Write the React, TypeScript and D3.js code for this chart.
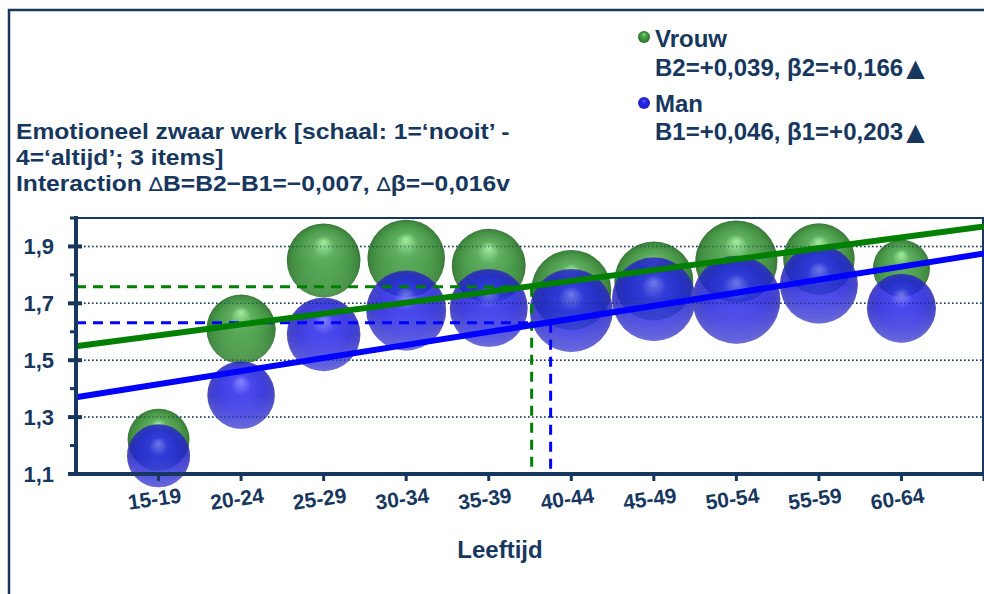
import React from 'react'
import { scaleLinear, scaleSqrt, line } from 'd3'

// leeftijdsgroepen op de x-as (posities 1..10)
const ageGroups = ['15-19', '20-24', '25-29', '30-34', '35-39', '40-44', '45-49', '50-54', '55-59', '60-64']

// gemiddelde score per groep
const vrouwMean = [1.221, 1.609, 1.851, 1.858, 1.832, 1.747, 1.779, 1.847, 1.856, 1.823]
const manMean = [1.164, 1.378, 1.591, 1.675, 1.684, 1.675, 1.715, 1.713, 1.766, 1.683]

// bubbelgrootte (aantal respondenten, geschat)
const vrouwN = [990, 1240, 1400, 1550, 1410, 1650, 1610, 1740, 1320, 840]
const manN = [1030, 1180, 1400, 1650, 1570, 1780, 1810, 2000, 1570, 1230]

// regressielijnen: waarde aan begin (x=0) en eind (x=11) van de as
const vrouwFit = [1.549, 1.97]
const manFit = [1.37, 1.875]

// gemiddelde punten (x, y) voor de stippellijnen
const vrouwCentroid = [5.52, 1.758]
const manCentroid = [5.75, 1.632]

const yMajor = [1.1, 1.3, 1.5, 1.7, 1.9]
const yMinor = [1.2, 1.4, 1.6, 1.8, 2.0]
const gridLines = [1.3, 1.5, 1.7, 1.9]

const titleLine1 = 'Emotioneel zwaar werk [schaal: 1=\u2018nooit\u2019 -'
const titleLine2 = '4=\u2018altijd\u2019; 3 items]'

const NAVY = '#17375e'
const GREEN = '#008000'
const BLUE = '#0000ff'
const FONT = '"Liberation Sans", Arial, sans-serif'

const W = 984
const H = 594
const left = 76
const right = 984
const top = 218
const bottom = 474

export default function App() {
  const x = scaleLinear().domain([0, 11]).range([left, right])
  const y = scaleLinear().domain([1.1, 2.0]).range([bottom, top])
  const r = scaleSqrt().domain([0, 2000]).range([0, 44])

  const fitLine = line<number>()
    .x((_, i) => x(i === 0 ? 0 : 11))
    .y(d => y(d))

  const series = [
    { key: 'vrouw', mean: vrouwMean, n: vrouwN, grad: 'url(#gGreen)', shine: 'url(#gGreenLow)', op: 0.9 },
    { key: 'man', mean: manMean, n: manN, grad: 'url(#gBlue)', shine: 'url(#gBlueLow)', op: 0.86 },
  ]

  const centroids = [
    { c: vrouwCentroid, color: GREEN },
    { c: manCentroid, color: BLUE },
  ]

  const xTicks = ageGroups.map((_, i) => i + 1).concat([11])
  const titleProps = { fontFamily: FONT, fontSize: 22, fontWeight: 'bold', fill: NAVY }

  return (
    <svg width={W} height={H} style={{ position: 'absolute', left: 0, top: 0, display: 'block', background: '#fff' }}>
      <defs>
        <radialGradient id="gGreen" cx="50%" cy="50%" r="50%" fx="50%" fy="25%">
          <stop offset="0%" stopColor="#98ec98" />
          <stop offset="30%" stopColor="#4fa64f" />
          <stop offset="70%" stopColor="#378f37" />
          <stop offset="92%" stopColor="#2b7a2b" />
          <stop offset="100%" stopColor="#236623" />
        </radialGradient>
        <radialGradient id="gBlue" cx="50%" cy="50%" r="50%" fx="50%" fy="30%">
          <stop offset="0%" stopColor="#7070ff" />
          <stop offset="30%" stopColor="#2a2aec" />
          <stop offset="70%" stopColor="#1f1fd8" />
          <stop offset="92%" stopColor="#2626c0" />
          <stop offset="100%" stopColor="#3232b0" />
        </radialGradient>
        <linearGradient id="gGreenLow" x1="0" y1="0" x2="0" y2="1">
          <stop offset="55%" stopColor="#7fd07f" stopOpacity={0} />
          <stop offset="100%" stopColor="#7fd07f" stopOpacity={0.3} />
        </linearGradient>
        <linearGradient id="gBlueLow" x1="0" y1="0" x2="0" y2="1">
          <stop offset="50%" stopColor="#8080ff" stopOpacity={0} />
          <stop offset="100%" stopColor="#8080ff" stopOpacity={0.45} />
        </linearGradient>
      </defs>

      {/* kader */}
      <path d={`M9,${H} L9,10 L${W},10`} fill="none" stroke={NAVY} strokeWidth={2.5} />

      {/* titel */}
      <text transform="translate(16,139) scale(1.12,1)" {...titleProps}>{titleLine1}</text>
      <text transform="translate(16,165) scale(1.12,1)" {...titleProps}>{titleLine2}</text>
      <text transform="translate(16,191) scale(1.12,1)" {...titleProps}>
        Interaction <tspan fontWeight="normal" fontFamily="DejaVu Sans" fontSize={19}>∆</tspan>B=B2−B1=−0,007, <tspan fontWeight="normal" fontFamily="DejaVu Sans" fontSize={19}>∆</tspan>β=−0,016v
      </text>

      {/* legenda */}
      <circle cx={644} cy={37} r={6} fill="url(#gGreen)" />
      <text x={655} y={47} fontFamily={FONT} fontSize={24} fontWeight="bold" fill={NAVY}>Vrouw</text>
      <text x={655} y={76} fontFamily={FONT} fontSize={24} fontWeight="bold" fill={NAVY}>
        B2=+0,039, β2=+0,166<tspan dx={3} fontSize={24} fontFamily="DejaVu Sans">▲</tspan>
      </text>
      <circle cx={644} cy={103} r={6} fill="url(#gBlue)" />
      <text x={655} y={112} fontFamily={FONT} fontSize={24} fontWeight="bold" fill={NAVY}>Man</text>
      <text x={655} y={140} fontFamily={FONT} fontSize={24} fontWeight="bold" fill={NAVY}>
        B1=+0,046, β1=+0,203<tspan dx={3} fontSize={24} fontFamily="DejaVu Sans">▲</tspan>
      </text>

      {/* plotkader en rasterlijnen */}
      <path d={`M${left},${top} L${right - 1},${top} L${right - 1},${bottom}`} fill="none" stroke={NAVY} strokeWidth={2} />
      {gridLines.map(v => (
        <line key={v} x1={left} x2={right} y1={y(v)} y2={y(v)} stroke={NAVY} strokeWidth={1.5} strokeDasharray="1.5,2.5" />
      ))}

      {/* bubbels */}
      {series.map(s => (
        <g key={s.key} opacity={s.op}>
          {s.mean.map((v, i) => (
            <g key={i}>
              <circle cx={x(i + 1)} cy={y(v)} r={r(s.n[i])} fill={s.grad} />
              <circle cx={x(i + 1)} cy={y(v)} r={r(s.n[i])} fill={s.shine} />
            </g>
          ))}
        </g>
      ))}

      {/* rasterlijnen schemeren door de bubbels */}
      {gridLines.map(v => (
        <line key={'o' + v} x1={left} x2={right} y1={y(v)} y2={y(v)} stroke={NAVY} strokeWidth={1.5} strokeDasharray="1.5,2.5" opacity={0.45} />
      ))}

      {/* stippellijnen naar gemiddelde */}
      {centroids.map(({ c, color }, i) => (
        <g key={i} stroke={color} strokeWidth={3} strokeDasharray="10,7" fill="none">
          <line x1={left} x2={x(c[0])} y1={y(c[1])} y2={y(c[1])} />
          <line x1={x(c[0])} x2={x(c[0])} y1={y(c[1])} y2={bottom} />
        </g>
      ))}

      {/* regressielijnen */}
      <path d={fitLine(vrouwFit) || ''} stroke={GREEN} strokeWidth={6} fill="none" />
      <path d={fitLine(manFit) || ''} stroke={BLUE} strokeWidth={6} fill="none" />

      {/* y-as */}
      <line x1={left} x2={left} y1={top - 2} y2={bottom + 2} stroke={NAVY} strokeWidth={4} />
      {yMajor.map(v => (
        <g key={v}>
          <line x1={68} x2={82} y1={y(v)} y2={y(v)} stroke={NAVY} strokeWidth={4} />
          <text x={54} y={y(v)} dy="0.36em" textAnchor="end" fontFamily={FONT} fontSize={22} fontWeight="bold" fill={NAVY}>
            {String(v).replace('.', ',')}
          </text>
        </g>
      ))}
      {yMinor.map(v => (
        <line key={v} x1={70} x2={left} y1={y(v)} y2={y(v)} stroke={NAVY} strokeWidth={3} />
      ))}

      {/* x-as */}
      <line x1={left - 2} x2={right} y1={bottom} y2={bottom} stroke={NAVY} strokeWidth={4} />
      {xTicks.map(t => (
        <line key={t} x1={x(t)} x2={x(t)} y1={bottom} y2={bottom + 7} stroke={NAVY} strokeWidth={3} />
      ))}
      {ageGroups.map((g, i) => (
        <text key={g} transform={`translate(${x(i + 1) - 3},${506}) rotate(-8)`} textAnchor="middle"
          fontFamily={FONT} fontSize={21} fontWeight="bold" fill={NAVY}>{g}</text>
      ))}
      <text x={500} y={558} textAnchor="middle" fontFamily={FONT} fontSize={24} fontWeight="bold" fill={NAVY}>Leeftijd</text>
    </svg>
  )
}
